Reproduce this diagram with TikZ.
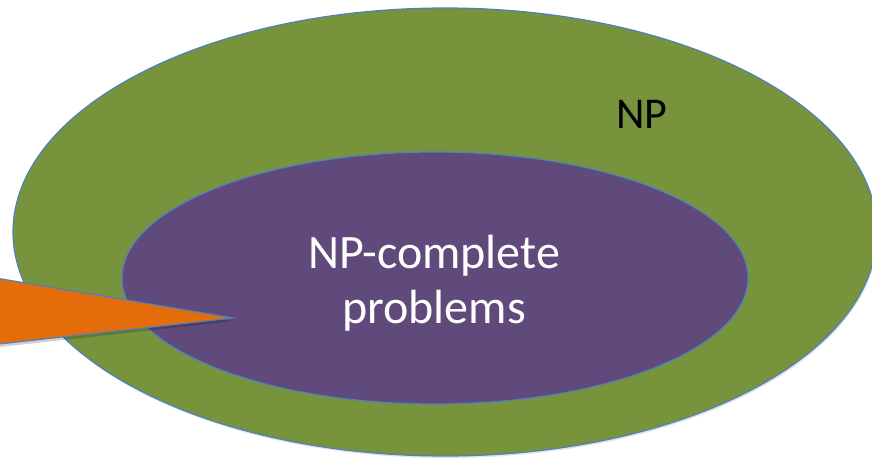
\documentclass[tikz,border=0pt]{standalone}
\usepackage{fontspec}
\setmainfont{Carlito}
\usetikzlibrary{shapes.geometric,shadows}
\definecolor{npgreen}{HTML}{77933C}
\definecolor{nppurple}{HTML}{604A7B}
\definecolor{nporange}{HTML}{E46C0A}
\definecolor{npedge}{HTML}{4F81BD}
\tikzset{
  setshape/.style={ellipse, draw=npedge, line width=1.2pt, inner sep=0pt},
  softshadow/.style={drop shadow={shadow xshift=1pt, shadow yshift=-2pt, opacity=0.18, fill=black!60}},
  bigtext/.style={font=\fontsize{44}{53}\selectfont, align=center, inner sep=0pt},
  innertext/.style={font=\fontsize{48}{55}\selectfont, align=center, inner sep=0pt}
}
\begin{document}
\begin{tikzpicture}[x=1pt,y=-1pt]
\useasboundingbox (0,0) rectangle (872,458);
\node[setshape, fill=npgreen, softshadow, minimum width=864pt, minimum height=448pt] (np) at (445,232) {};
\node[setshape, fill=nppurple, minimum width=626pt, minimum height=252pt] (npc) at (435,278) {};
\node[bigtext, text=black] (nplabel) at (642,114) {NP};
\node[innertext, text=white] (npclabel) at (434,283) {NP-complete\\problems};
\coordinate (ctop) at (-10,277);
\coordinate (ctip) at (233,318);
\coordinate (cbot) at (-10,345);
\fill[black, opacity=0.18] ([xshift=1pt,yshift=-3pt]ctop) -- ([xshift=1pt,yshift=-3pt]ctip) -- ([xshift=1pt,yshift=-3pt]cbot) -- cycle;
\draw[draw=npedge, line width=1.2pt, fill=nporange, line join=miter] (ctop) -- (ctip) -- (cbot) -- cycle;
\end{tikzpicture}
\end{document}
